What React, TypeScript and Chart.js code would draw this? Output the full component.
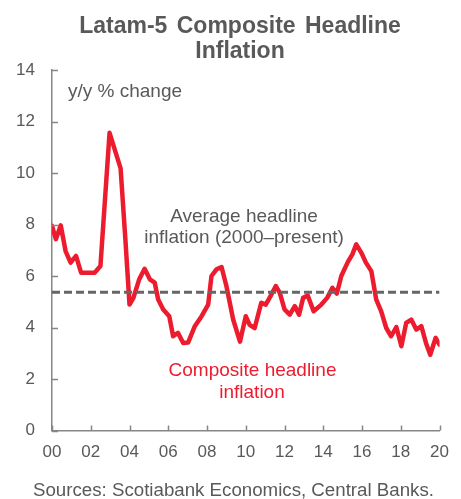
import React, { useEffect, useRef } from "react";
import { Chart, registerables } from "chart.js";

Chart.register(...registerables);

// ---- Data ----
const years: number[] = [
  2000.0, 2000.2, 2000.45, 2000.7, 2000.96, 2001.24, 2001.5, 2002.2, 2002.5, 2002.97,
  2003.54, 2003.78, 2004.0, 2004.2, 2004.5, 2004.78, 2005.05, 2005.3, 2005.48, 2005.74,
  2006.05, 2006.25, 2006.5, 2006.77, 2007.03, 2007.37, 2007.72, 2008.06, 2008.23, 2008.49,
  2008.75, 2009.0, 2009.35, 2009.7, 2010.0, 2010.2, 2010.46, 2010.8, 2011.03, 2011.32,
  2011.55, 2011.75, 2012.0, 2012.27, 2012.53, 2012.75, 2012.96, 2013.2, 2013.5, 2013.9,
  2014.2, 2014.47, 2014.7, 2014.93, 2015.27, 2015.5, 2015.7, 2015.96, 2016.2, 2016.48,
  2016.73, 2016.99, 2017.25, 2017.5, 2017.77, 2018.03, 2018.28, 2018.54, 2018.8, 2019.06,
  2019.3, 2019.52, 2019.8, 2020.0,
];
const compositeInflation: number[] = [
  7.95, 7.43, 7.97, 6.97, 6.52, 6.78, 6.13, 6.13, 6.39, 11.56,
  10.18, 7.5, 4.89, 5.15, 5.87, 6.28, 5.87, 5.74, 5.09, 4.7,
  4.44, 3.66, 3.79, 3.4, 3.42, 4.05, 4.44, 4.89, 6.0, 6.26,
  6.35, 5.61, 4.31, 3.45, 4.44, 4.1, 3.98, 4.96, 4.89, 5.28,
  5.61, 5.35, 4.7, 4.5, 4.83, 4.5, 5.15, 5.24, 4.63, 4.89,
  5.15, 5.54, 5.32, 6.0, 6.55, 6.84, 7.23, 6.91, 6.52, 6.19,
  5.09, 4.63, 3.98, 3.66, 4.02, 3.27, 4.18, 4.31, 3.92, 4.05,
  3.4, 2.94, 3.6, 3.33,
];
const averageInflation = 5.37;
const averageSpan: number[] = [2000, 2020];
const xTickYears: number[] = [2000, 2002, 2004, 2006, 2008, 2010, 2012, 2014, 2016, 2018, 2020];
const yTickValues: number[] = [0, 2, 4, 6, 8, 10, 12, 14];

const titleLines: string[] = ["Latam-5 Composite Headline", "Inflation"];
const unitLabel = "y/y % change";
const averageLabel: string[] = ["Average headline", "inflation (2000\u2013present)"];
const seriesLabel: string[] = ["Composite headline", "inflation"];
const sourceText = "Sources: Scotiabank Economics, Central Banks.";

const FONT = "'Liberation Sans', Arial, sans-serif";
const GRAY = "#595959";
const AXIS = "#868686";
const RED = "#EC1C2E";
const DASH = "#666666";

const overlayPlugin = {
  id: "overlay",
  afterDraw(chart: any) {
    const { ctx, chartArea, scales } = chart;
    ctx.save();
    // inward tick marks
    ctx.strokeStyle = AXIS;
    ctx.lineWidth = 1.5;
    ctx.beginPath();
    yTickValues.forEach((v) => {
      const y = Math.round(scales.y.getPixelForValue(v)) + 0.5;
      ctx.moveTo(chartArea.left, y);
      ctx.lineTo(chartArea.left + 6, y);
    });
    xTickYears.forEach((v) => {
      const x = Math.round(scales.x.getPixelForValue(v)) + 0.5;
      ctx.moveTo(x, chartArea.bottom);
      ctx.lineTo(x, chartArea.bottom - 5);
    });
    ctx.stroke();

    // title
    ctx.fillStyle = GRAY;
    ctx.textAlign = "center";
    ctx.textBaseline = "alphabetic";
    ctx.font = `bold 23px ${FONT}`;
    (ctx as any).wordSpacing = "3px";
    ctx.fillText(titleLines[0], 240, 33);
    ctx.fillText(titleLines[1], 240, 57.5);
    (ctx as any).wordSpacing = "0px";

    // unit label
    ctx.font = `19px ${FONT}`;
    ctx.textAlign = "left";
    ctx.fillText(unitLabel, 68, 97);

    // average label
    ctx.textAlign = "center";
    ctx.fillText(averageLabel[0], 244, 221.5);
    ctx.fillText(averageLabel[1], 244, 243);

    // series label
    ctx.fillStyle = RED;
    ctx.fillText(seriesLabel[0], 252.5, 376);
    ctx.fillText(seriesLabel[1], 252, 398);

    // source
    ctx.fillStyle = GRAY;
    ctx.font = `18.7px ${FONT}`;
    ctx.textAlign = "left";
    ctx.fillText(sourceText, 33, 496);
    ctx.restore();
  },
};

export default function App() {
  const canvasRef = useRef<HTMLCanvasElement | null>(null);

  useEffect(() => {
    if (!canvasRef.current) return;
    const mainPoints = years.map((x, i) => ({ x, y: compositeInflation[i] }));
    const avgPoints = averageSpan.map((x) => ({ x, y: averageInflation }));
    const chart = new Chart(canvasRef.current, {
      type: "line",
      data: {
        datasets: [
          {
            label: "Average",
            data: avgPoints,
            borderColor: DASH,
            borderWidth: 3,
            borderDash: [8, 4],
            pointRadius: 0,
            fill: false,
          },
          {
            label: "Composite",
            data: mainPoints,
            borderColor: RED,
            borderWidth: 4.5,
            pointRadius: 0,
            tension: 0,
            borderJoinStyle: "round",
            borderCapStyle: "round",
            fill: false,
          },
        ],
      },
      options: {
        responsive: false,
        animation: false,
        events: [],
        layout: { padding: { left: 0, right: 21, top: 70, bottom: 0 } },
        plugins: {
          legend: { display: false },
          title: { display: false },
          tooltip: { enabled: false },
        },
        scales: {
          x: {
            type: "linear",
            min: 2000,
            max: 2020,
            grid: { display: false, drawTicks: false },
            border: { display: true, color: AXIS, width: 1.5 },
            ticks: {
              stepSize: 2,
              autoSkip: false,
              maxRotation: 0,
              padding: 12,
              color: GRAY,
              font: { family: FONT, size: 17 },
              callback: (v: any) => String(Number(v) % 100).padStart(2, "0"),
            },
            afterFit: (s: any) => {
              s.height = 68.5;
            },
          },
          y: {
            min: 0,
            max: 14,
            grid: { display: false, drawTicks: false },
            border: { display: true, color: AXIS, width: 1.5 },
            ticks: {
              stepSize: 2,
              padding: 17,
              color: GRAY,
              font: { family: FONT, size: 17 },
            },
            afterFit: (s: any) => {
              s.width = 52;
            },
          },
        },
      },
      plugins: [overlayPlugin],
    });
    return () => chart.destroy();
  }, []);

  return (
    <div style={{ position: "fixed", left: 0, top: 0, width: 461, height: 499, background: "#fff" }}>
      <canvas ref={canvasRef} width={461} height={499} style={{ display: "block" }} />
    </div>
  );
}
